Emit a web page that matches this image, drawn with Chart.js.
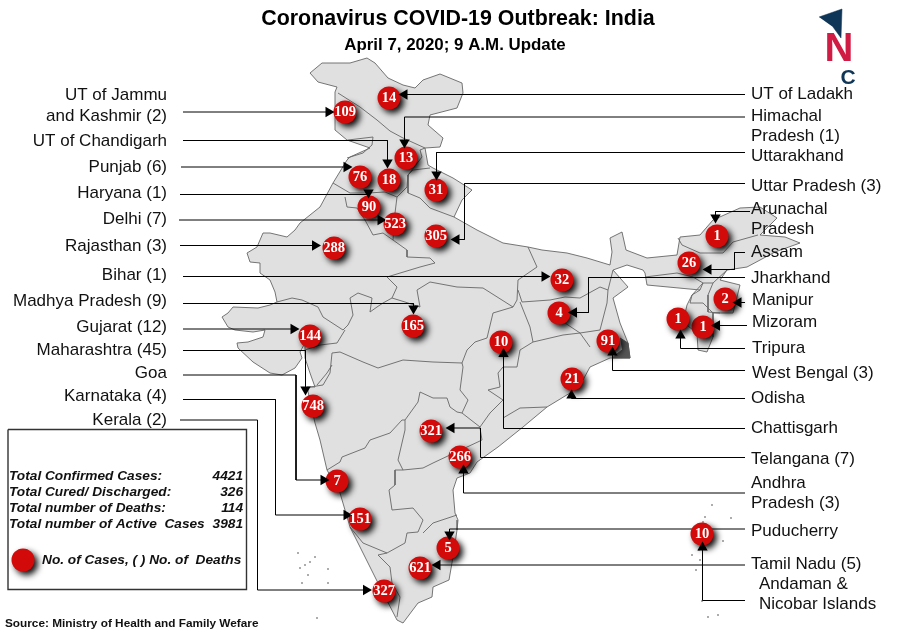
<!DOCTYPE html>
<html><head><meta charset="utf-8">
<script src="https://cdn.jsdelivr.net/npm/chart.js@4"></script>
<style>html,body{margin:0;padding:0;background:#fff}canvas{display:block}</style>
</head><body><canvas id="c" width="900" height="636"></canvas>
<script>
const titleText = "Coronavirus COVID-19 Outbreak: India";
const subtitleText = "April 7, 2020; 9 A.M. Update";
const sourceText = "Source: Ministry of Health and Family Wefare";

const caseCounts = [109,14,13,76,18,31,90,523,305,288,32,1,26,2,1,1,4,165,10,91,21,144,748,321,266,7,151,5,621,327,10];
const bubbleX = [345,389,406,360,389,436,369,395,436,334,562,717,689,725,703,678,559,413,501,608,572,310,313,431,460,337,360,448,420,384,702];
const bubbleY = [112,98,158,177,180,190,207,224,236,248,280,236,263,299,327,319,313,326,342,341,379,336,406,431,457,481,519,548,568,591,534];

const leftLabels = [["UT of Jammu",95],["and Kashmir (2)",116],["UT of Chandigarh",141],["Punjab (6)",167],["Haryana (1)",193],["Delhi (7)",219],["Rajasthan (3)",246],["Bihar (1)",275],["Madhya Pradesh (9)",301],["Gujarat (12)",327],["Maharashtra (45)",350],["Goa",373],["Karnataka (4)",396],["Kerala (2)",420]];
const rightLabels = [["UT of Ladakh",94],["Himachal",116],["Pradesh (1)",136],["Uttarakhand",156],["Uttar Pradesh (3)",186],["Arunachal",209],["Pradesh",229],["Assam",252],["Jharkhand",278],["Manipur",300],["Mizoram",322],["Tripura",348],["West Bengal (3)",373],["Odisha",398],["Chattisgarh",428],["Telangana (7)",459],["Andhra",483],["Pradesh (3)",503],["Puducherry",531],["Tamil Nadu (5)",564],["Andaman &",584],["Nicobar Islands",604]];
const summaryNames = ["Total Confirmed Cases:","Total Cured/ Discharged:","Total number of Deaths:","Total number of Active  Cases"];
const summaryValues = ["4421","326","114","3981"];
const legendNote = "No. of Cases, ( ) No. of  Deaths";

const indiaOutline = [[310,73],[322,63],[337,63],[350,63],[367,58],[375,63],[388,78],[403,85],[415,88],[423,80],[440,74],[462,83],[463,93],[457,108],[430,115],[428,125],[443,138],[440,147],[425,148],[428,165],[433,168],[453,178],[472,190],[462,200],[454,217],[477,230],[503,243],[528,247],[542,250],[567,253],[587,258],[610,265],[612,252],[610,238],[622,232],[626,250],[647,258],[677,255],[680,237],[700,235],[713,220],[740,208],[760,207],[777,218],[760,235],[785,237],[800,243],[775,252],[747,267],[727,270],[720,280],[740,285],[733,313],[713,313],[713,337],[707,352],[698,350],[697,333],[693,330],[683,322],[687,305],[692,295],[700,290],[647,285],[645,273],[643,270],[627,265],[613,270],[628,287],[613,298],[620,323],[628,343],[630,358],[610,358],[590,367],[583,380],[570,393],[547,407],[523,427],[498,447],[477,462],[470,473],[457,478],[453,490],[455,513],[458,520],[457,530],[453,557],[449,580],[433,587],[432,597],[418,603],[403,623],[397,620],[380,587],[365,557],[350,527],[340,493],[327,470],[320,440],[315,423],[307,387],[315,387],[310,373],[305,358],[305,343],[300,352],[302,358],[295,368],[282,375],[270,373],[253,362],[238,348],[237,343],[248,342],[263,337],[265,330],[253,332],[235,330],[228,327],[222,317],[228,313],[233,307],[258,308],[270,305],[277,302],[275,292],[270,280],[260,273],[260,263],[250,262],[247,253],[257,247],[263,233],[270,233],[287,237],[295,230],[300,223],[320,207],[333,183],[347,160],[350,157],[370,148],[347,140],[335,130],[335,92],[337,87],[318,82],[310,73]];
const bengalDelta = [[620,338],[628,343],[630,358],[612,358],[622,350]];

const stateBorders = [
 [[338,93],[360,107],[377,120],[390,131],[403,138],[425,148]],
 [[348,140],[373,137],[372,145],[363,153],[347,158]],
 [[425,148],[420,150],[422,157],[408,175],[407,187],[397,197],[395,213],[393,240],[407,250],[407,257],[430,258],[435,263],[420,267],[387,277],[397,287],[392,298],[383,303],[377,307],[370,312],[372,298],[358,293],[350,298],[353,315],[348,325],[343,330],[323,317],[318,307],[302,300],[292,298],[277,302]],
 [[430,168],[413,170],[408,175],[408,193],[420,198],[430,208],[454,217]],
 [[333,183],[350,193],[368,193],[385,192],[397,197]],
 [[345,197],[347,207],[357,208],[365,220],[373,235],[383,233],[393,240]],
 [[528,247],[537,267],[518,280],[517,300],[513,307],[483,288],[457,287],[430,282],[417,290],[420,307],[405,302],[392,298]],
 [[518,290],[522,302],[550,300],[565,297],[580,298],[600,287],[608,290],[613,270]],
 [[520,302],[530,327],[533,342],[563,335],[580,333],[590,347]],
 [[565,323],[580,333],[600,330],[607,303],[608,290]],
 [[533,342],[520,350],[517,367],[503,367],[498,373],[500,387],[488,390],[503,400],[490,413],[480,427],[462,413],[468,400],[460,390],[463,367],[462,363],[467,350],[475,342],[487,338],[493,313],[513,307]],
 [[503,418],[520,408],[547,407]],
 [[462,363],[433,362],[403,360],[378,368],[363,362],[340,352],[332,353],[330,373],[323,385],[310,387]],
 [[462,413],[457,412],[450,407],[447,398],[433,398],[420,392],[418,402],[405,420],[402,420],[390,433],[370,440],[365,448],[342,457],[340,462],[327,470]],
 [[480,428],[482,440],[450,455],[433,463],[423,468],[403,470],[398,460],[405,430],[405,420]],
 [[403,470],[395,470],[395,485],[389,490],[392,510],[413,508],[423,520],[418,532],[407,533],[405,543],[387,553],[363,543],[350,527]],
 [[423,533],[433,523],[457,515]],
 [[387,553],[378,555],[390,567],[392,583],[400,597],[397,617]],
 [[305,350],[320,345],[337,343],[345,330]],
 [[332,365],[327,373],[317,385]],
 [[678,238],[682,245],[700,253],[723,253],[733,242],[758,235]],
 [[645,277],[677,273],[693,277],[703,283],[700,290]],
 [[713,283],[708,295],[708,312],[720,313]],
 [[703,283],[692,295],[690,303],[703,303],[713,313]],
 [[703,283],[713,283],[727,270]]
];
const islandSpecks = [[712,505],[705,517],[703,522],[731,518],[723,541],[699,550],[700,560],[692,555],[696,570],[702,601],[708,617],[718,615],[298,553],[315,557],[310,562],[305,565],[300,568],[328,569],[308,575],[302,583],[328,583],[317,618]];

const leaderLines = [
 [[183,112],[332,112]],
 [[745,94.5],[405,94.5]],
 [[745,117],[404.5,117],[404.5,145]],
 [[183,140.5],[387.5,140.5],[387.5,165]],
 [[745,152.5],[436.5,152.5],[436.5,177]],
 [[745,183.5],[464.5,183.5],[464.5,239.5],[456,239.5]],
 [[181,167],[348,167]],
 [[180,194.5],[368.5,194.5]],
 [[179,220],[382,220]],
 [[180,245.5],[317,245.5]],
 [[183,276.5],[546,276.5]],
 [[183,303.5],[413.5,303.5],[413.5,311]],
 [[183,329],[295,329]],
 [[183,350.5],[305.5,350.5],[305.5,392]],
 [[183,375],[296,375],[296,480],[325,480]],
 [[183,399.5],[275.5,399.5],[275.5,515],[348,515]],
 [[180,420],[257.5,420],[257.5,590],[367,590]],
 [[745,600.5],[702.5,600.5],[702.5,546]],
 [[745,565],[436,565]],
 [[745,529],[449.5,529],[449.5,536]],
 [[745,493],[463.5,493],[463.5,470]],
 [[745,457.5],[480.5,457.5],[480.5,428],[450,428]],
 [[745,428.5],[503.5,428.5],[503.5,353]],
 [[745,398.5],[571.5,398.5],[571.5,395]],
 [[745,370.5],[612.5,370.5],[612.5,352]],
 [[745,348.5],[680.5,348.5],[680.5,335]],
 [[747,325.5],[715,325.5]],
 [[745,302.5],[736,302.5]],
 [[745,277.5],[588.5,277.5],[588.5,312.5],[572,312.5]],
 [[745,252.5],[734.5,252.5],[734.5,269.5],[706,269.5]],
 [[750,211.5],[715.5,211.5],[715.5,219]]
];
const arrowHeads = [[330,112,90],[403,94.5,270],[404.5,144,180],[387.5,164,180],[436.5,176,180],[455,239.5,270],[348,167,90],[368.5,194,180],[382,220,90],[316.5,245.5,90],[546,276.5,90],[413.5,310,180],[295,329,90],[305.5,391,180],[325,480,90],[348,515,90],[367.5,590,90],[702.5,546,0],[436,565,270],[449.5,536,180],[463.5,469,0],[450,428,270],[503.5,352.5,0],[571.5,394,0],[612.5,351,0],[680.5,334,0],[715.5,325.5,270],[737,302.5,270],[572.5,312.5,270],[707,269.5,270],[715.5,219,180]];

const summaryBox = [[8,429.5],[246.5,429.5],[246.5,589.5],[8,589.5],[8,429.5]];
const logoArrow = [[819,17],[842,9],[841,38],[833,27]];

const pts = a => a.map(p => ({x:p[0], y:p[1]}));
const lineDs = (a, color, w, order) => ({type:'scatter', showLine:true, data:pts(a), borderColor:color, borderWidth:w, pointRadius:0, fill:false, order, tension:0});

const datasets = [];
datasets.push({label:'Arrows', type:'scatter', order:0,
  data:arrowHeads.map(a=>{const t=a[2]*Math.PI/180;return {x:a[0]-1.5*Math.sin(t), y:a[1]+1.5*Math.cos(t)};}),
  pointStyle:'triangle', pointRotation:arrowHeads.map(a=>a[2]), pointRadius:6, pointBackgroundColor:'#000', pointBorderWidth:0});
datasets.push({label:'Cases', type:'scatter', order:1,
  data:bubbleX.map((x,i)=>({x, y:bubbleY[i]})).concat([{x:23,y:560}]),
  pointRadius:11.5, pointBackgroundColor:'#d20a0a', pointBorderWidth:0});
leaderLines.forEach(l => datasets.push(lineDs(l,'#000',1,2)));
datasets.push(lineDs(summaryBox,'#333',1.4,2));
datasets.push({label:'Islands', type:'scatter', order:3, data:pts(islandSpecks), pointRadius:0.8, pointBackgroundColor:'#444', pointBorderWidth:0});
stateBorders.forEach(b => datasets.push(lineDs(b,'#666',0.9,4)));
datasets.push(Object.assign(lineDs(bengalDelta,'#555',1,4.5),{fill:'shape',backgroundColor:'#555'}));
datasets.push(Object.assign(lineDs(indiaOutline,'#666',0.9,5),{fill:'shape',backgroundColor:'#e0e0e0'}));
datasets.push(Object.assign(lineDs(logoArrow,'#0f3557',0.5,5),{fill:'shape',backgroundColor:'#0f3557'}));

const overlay = {
  id:'overlay',
  beforeDatasetDraw(chart,args){
    if(chart.data.datasets[args.index].label==='Cases'){
      const c=chart.ctx; c.save(); c.shadowColor='rgba(0,0,0,0.95)'; c.shadowBlur=6; c.shadowOffsetX=3.5; c.shadowOffsetY=3.5;
    }
  },
  afterDatasetDraw(chart,args){
    if(chart.data.datasets[args.index].label==='Cases') chart.ctx.restore();
  },
  afterDatasetsDraw(chart){
    const c=chart.ctx, X=chart.scales.x, Y=chart.scales.y;
    const put=(t,x,y,font,col,al)=>{c.font=font;c.fillStyle=col;c.textAlign=al||'left';c.textBaseline='middle';c.fillText(t,X.getPixelForValue(x),Y.getPixelForValue(y));};
    c.save();
    put(titleText,458,19,'bold 21.4px "Liberation Sans"','#000','center');
    put(subtitleText,455,45,'bold 16.9px "Liberation Sans"','#000','center');
    leftLabels.forEach(l=>put(l[0],167,l[1],'17px "Liberation Sans"','#111','right'));
    rightLabels.forEach(l=>put(l[0],l[0]==="Andaman &"||l[0]==="Nicobar Islands"?759:(l[0]==="Manipur"||l[0]==="Mizoram"||l[0]==="Tripura"||l[0]==="West Bengal (3)"?752:751),l[1],'17px "Liberation Sans"','#111','left'));
    caseCounts.forEach((v,i)=>put(String(v),bubbleX[i],bubbleY[i]+0.5,'bold 14.5px "Liberation Serif"','#fff','center'));
    const rows=[476,492,508,524];
    summaryNames.forEach((n,i)=>{put(n,9,rows[i],'italic bold 13.7px "Liberation Sans"','#111');put(summaryValues[i],243,rows[i],'italic bold 13.7px "Liberation Sans"','#111','right');});
    put(legendNote,42,560,'italic bold 13.7px "Liberation Sans"','#111');
    put(sourceText,5,624,'bold 11.8px "Liberation Sans"','#111');
    put("N",839,50,'bold 40px "Liberation Sans"','#d01c45','center');
    put("C",848,78,'bold 21px "Liberation Sans"','#0f3557','center');
    c.restore();
  }
};

new Chart(document.getElementById('c'),{
  type:'scatter',
  data:{datasets},
  plugins:[overlay],
  options:{
    responsive:false, animation:false, devicePixelRatio:1,
    layout:{padding:0, autoPadding:false},
    plugins:{legend:{display:false},tooltip:{enabled:false},title:{display:false}},
    scales:{
      x:{type:'linear',min:0,max:900,display:false},
      y:{type:'linear',min:0,max:636,reverse:true,display:false}
    }
  }
});
</script></body></html>
